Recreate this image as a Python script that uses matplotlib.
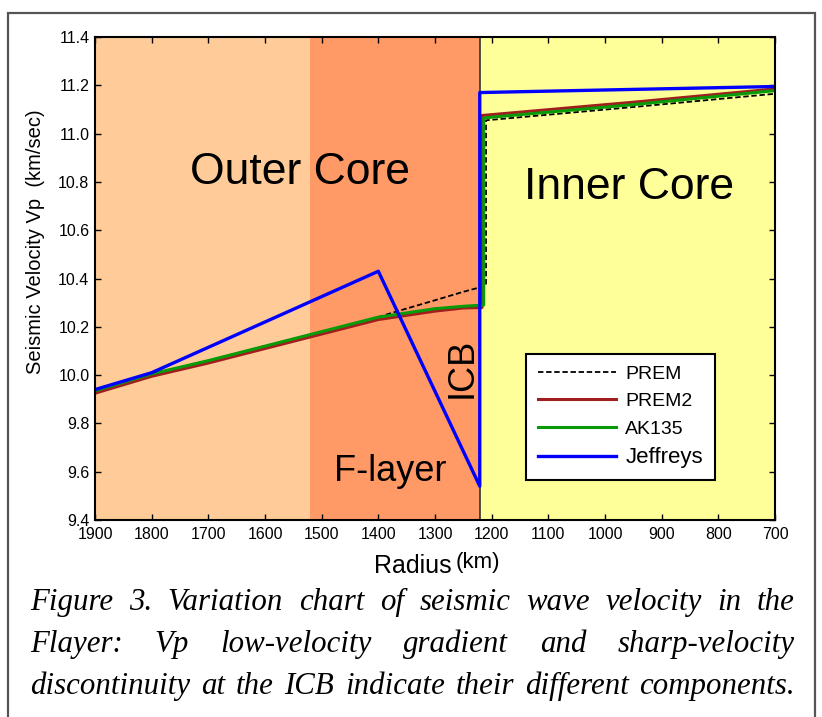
import numpy as np
import matplotlib
matplotlib.use("Agg")
import matplotlib.pyplot as plt
from matplotlib.patches import Rectangle

# radius (km) / Vp (km/s)
prem_r = [1900, 1800, 1700, 1600, 1500, 1400, 1380, 1300, 1250, 1210, 1210, 950, 700]
prem_v = [9.935, 10.005, 10.06, 10.12, 10.18, 10.24, 10.255, 10.31, 10.345, 10.37, 11.055, 11.11, 11.165]

prem2_r = [1900, 1800, 1700, 1600, 1500, 1400, 1300, 1250, 1217, 1217, 950, 700]
prem2_v = [9.925, 9.995, 10.05, 10.11, 10.17, 10.23, 10.265, 10.278, 10.28, 11.075, 11.13, 11.185]

ak135_r = [1900, 1800, 1700, 1600, 1500, 1400, 1300, 1250, 1214, 1214, 950, 700]
ak135_v = [9.935, 10.005, 10.06, 10.12, 10.18, 10.24, 10.275, 10.285, 10.29, 11.065, 11.12, 11.178]

jeff_r = [1900, 1800, 1400, 1221, 1221, 700]
jeff_v = [9.94, 10.01, 10.43, 9.54, 11.17, 11.195]

# regions (km)
r_fl_top = 1520
r_icb = 1221

caption = ["Figure 3. Variation chart of seismic wave velocity in the",
           "Flayer: Vp low-velocity gradient and sharp-velocity",
           "discontinuity at the ICB indicate their different components."]

plt.rcParams['font.family'] = ['Liberation Sans', 'DejaVu Sans']

fig = plt.figure(figsize=(8.22, 7.17), dpi=100)
ax = fig.add_axes([95/822, 1-520/717, 680/822, 483/717])

# background zones
ax.axvspan(1900, r_fl_top, color='#FFCC99', lw=0, zorder=0)
ax.axvspan(r_fl_top, r_icb, color='#FF9966', lw=0, zorder=0)
ax.axvspan(r_icb, 700, color='#FFFF99', lw=0, zorder=0)
ax.axvline(r_icb, color='#333333', lw=1.2, zorder=1)

ax.plot(prem_r, prem_v, color='black', ls=(0, (3, 1.5)), lw=1.3, label='PREM', zorder=2)
ax.plot(prem2_r, prem2_v, color='#A01E1E', lw=2.2, label='PREM2', zorder=3)
ax.plot(ak135_r, ak135_v, color='#089A08', lw=2.2, label='AK135', zorder=4)
ax.plot(jeff_r, jeff_v, color='#0000FF', lw=2.4, label='Jeffreys', zorder=5)

ax.set_xlim(1900, 700)
ax.set_ylim(9.4, 11.4)
ax.set_xticks(np.arange(1900, 699, -100))
ax.set_yticks(np.arange(9.4, 11.41, 0.2))
ax.set_yticklabels(["%.1f" % v for v in np.arange(9.4, 11.41, 0.2)])
ax.tick_params(direction='in', top=True, right=True, labeltop=False, labelright=False,
               labelsize=11.5, length=4, width=1)
ax.tick_params(axis='x', pad=5)
ax.tick_params(axis='y', pad=4)
for s in ax.spines.values():
    s.set_linewidth(1.5)
    s.set_zorder(6)

ax.set_ylabel("Seismic Velocity Vp  (km/sec)", fontsize=14.5)
ax.yaxis.set_label_coords(-50/680, 0.576)
# x label: "Radius" with smaller raised "(km)"
fig.text(452/822, 1-573/717, "Radius", fontsize=18, ha='right', va='baseline')
fig.text(456/822, 1-568/717, "(km)", fontsize=16, ha='left', va='baseline')

# region labels
ax.text(1538, 10.84, "Outer Core", fontsize=32, ha='center', va='center')
ax.text(958, 10.775, "Inner Core", fontsize=32, ha='center', va='center')
ax.text(1379, 9.60, "F-layer", fontsize=26, ha='center', va='center')
ax.text(1252, 10.03, "ICB", fontsize=26, ha='center', va='center', rotation=90)

leg = ax.legend(loc='lower left', bbox_to_anchor=(0.634, 0.083), fontsize=14,
                frameon=True, fancybox=False, edgecolor='black', framealpha=1,
                handlelength=4.0, borderpad=0.6, labelspacing=0.5, handletextpad=0.5,
                borderaxespad=0)
leg.get_frame().set_linewidth(1.5)
leg.get_texts()[3].set_fontsize(16)

# outer frame of the figure box
fig.patches.append(Rectangle((8/822, -0.01), 807/822, 1-13/717 + 0.01, transform=fig.transFigure,
                             fill=False, ec='#555555', lw=1.6))

# justified caption, font size fitted so the last line fills the width
fig.canvas.draw()
rend = fig.canvas.get_renderer()
x0, x1 = 30, 795
probe = fig.text(0, 0, caption[2], family='Liberation Serif', style='italic', fontsize=20)
fs = 20 * (x1 - x0) / probe.get_window_extent(rend).width * 0.97
probe.remove()
baselines = [610, 652, 694]
for line, yb in zip(caption, baselines):
    words = line.split(" ")
    texts = [fig.text(0, 1-yb/717, w, family='Liberation Serif', style='italic',
                      fontsize=fs, va='baseline') for w in words]
    widths = [t.get_window_extent(rend).width for t in texts]
    gap = (x1 - x0 - sum(widths)) / (len(words) - 1)
    x = x0
    for t, w in zip(texts, widths):
        t.set_x(x/822)
        x += w + gap

fig.savefig("out.png", dpi=100)
